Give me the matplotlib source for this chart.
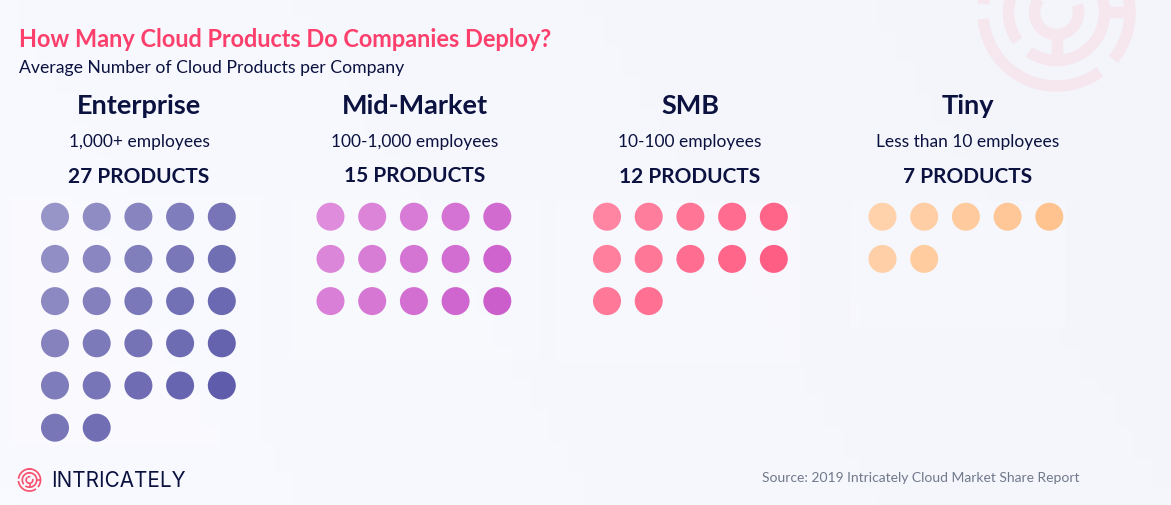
import numpy as np
import matplotlib
matplotlib.use("Agg")
import matplotlib.pyplot as plt
from matplotlib.colors import LinearSegmentedColormap, to_rgb
from matplotlib.patches import Rectangle

segments = ["Enterprise", "Mid-Market", "SMB", "Tiny"]
employees = ["1,000+ employees", "100-1,000 employees", "10-100 employees", "Less than 10 employees"]
products = [27, 15, 12, 7]

W, H = 1171, 506
NAVY = "#0b1240"
PINK = "#fd3f6c"
centers = [139, 415, 690, 968]
grid_left = [55, 330.5, 607, 882.5]
heads_y = [176.5, 176, 177, 177]
start_col = ["#9794c8", "#de8cdb", "#ff85a2", "#ffd2ac"]
end_col = ["#5a58a8", "#c54cc6", "#ff4672", "#ffb676"]
panels = [(10, 197, 252, 250), (290, 200, 250, 160), (556, 202, 244, 162), (851, 202, 214, 126)]
STEP_X, STEP_Y, PER_ROW, DOT = 41.7, 42.2, 5, 28.0

plt.rcParams["font.family"] = ["Lato", "DejaVu Sans"]
fig = plt.figure(figsize=(W / 100, H / 100), dpi=100)
ax = fig.add_axes([0, 0, 1, 1])
ax.set_xlim(0, W)
ax.set_ylim(H, 0)
ax.axis("off")

# background
gx, gy = np.meshgrid(np.linspace(0, 1, 64), np.linspace(0, 1, 32))
bgmap = LinearSegmentedColormap.from_list("bg", ["#f9faff", "#f3f5fb"])
ax.imshow(gx * 0.8 + (1 - gy) * 0.2, cmap=bgmap, extent=(0, W, H, 0), aspect="auto", zorder=0)
for x, y, w, h in panels:
    ax.add_patch(Rectangle((x, y), w, h, fc="#fbfbff", ec="none", alpha=0.35, zorder=1))


def logo(cx, cy, scale, color, zorder):
    lw = 11.5 * scale * 0.72
    rings = [(73.5, 53.8, 175), (73.5, -100, 39.5), (73.5, 186.6, 280),
             (48, 143.8, 280), (48, -100, 125),
             (22, -20, 230), (22, 235, 285)]
    for r, a0, a1 in rings:
        t = np.radians(np.linspace(a0, a1, 120))
        ax.plot(cx + r * scale * np.cos(t), cy + r * scale * np.sin(t), color=color,
                lw=lw, solid_capstyle="butt", zorder=zorder, clip_on=True)
    ax.plot([cx, cx], [cy + 22 * scale, cy + 46 * scale], color=color, lw=lw,
            solid_capstyle="butt", zorder=zorder)
    ax.plot([cx + 50 * scale, cx + 70 * scale], [cy - 0.5 * scale] * 2, color=color, lw=lw,
            solid_capstyle="butt", zorder=zorder)


logo(1056.5, 13.5, 1.0, "#f6e6ee", 2)
logo(29.5, 481, 0.15, "#f8526f", 5)

ax.text(19, 39, "How Many Cloud Products Do Companies Deploy?", color=PINK, fontsize=16.95,
        fontweight="bold", va="center", ha="left")
ax.text(19, 68, "Average Number of Cloud Products per Company", color=NAVY, fontsize=12.7,
        va="center", ha="left")

for i, seg in enumerate(segments):
    ax.text(centers[i], 105.5, seg, color=NAVY, fontsize=19.5, fontweight="bold", va="center", ha="center")
    ax.text(centers[i], 141.5, employees[i], color=NAVY, fontsize=12.5, va="center", ha="center")
    ax.text(centers[i], heads_y[i], f"{products[i]} PRODUCTS", color=NAVY, fontsize=15,
            fontweight="bold", va="center", ha="center")
    n = products[i]
    cols = np.arange(n) % PER_ROW
    rows = np.arange(n) // PER_ROW
    t = np.clip(cols * 0.13 + rows * 0.1, 0, 1)[:, None]
    colors = np.array(to_rgb(start_col[i])) * (1 - t) + np.array(to_rgb(end_col[i])) * t
    ax.scatter(grid_left[i] + cols * STEP_X, 217.7 + rows * STEP_Y, s=(DOT * 0.72) ** 2,
               c=colors, linewidths=0, zorder=4)

ax.text(51, 481, "INTRICATELY", color=NAVY, fontsize=14.9, family=["Inter", "DejaVu Sans"],
        va="center", ha="left")
ax.text(1079, 478.5, "Source: 2019 Intricately Cloud Market Share Report", color="#70788a",
        fontsize=10.0, va="center", ha="right")

fig.savefig("out.png", dpi=100)
